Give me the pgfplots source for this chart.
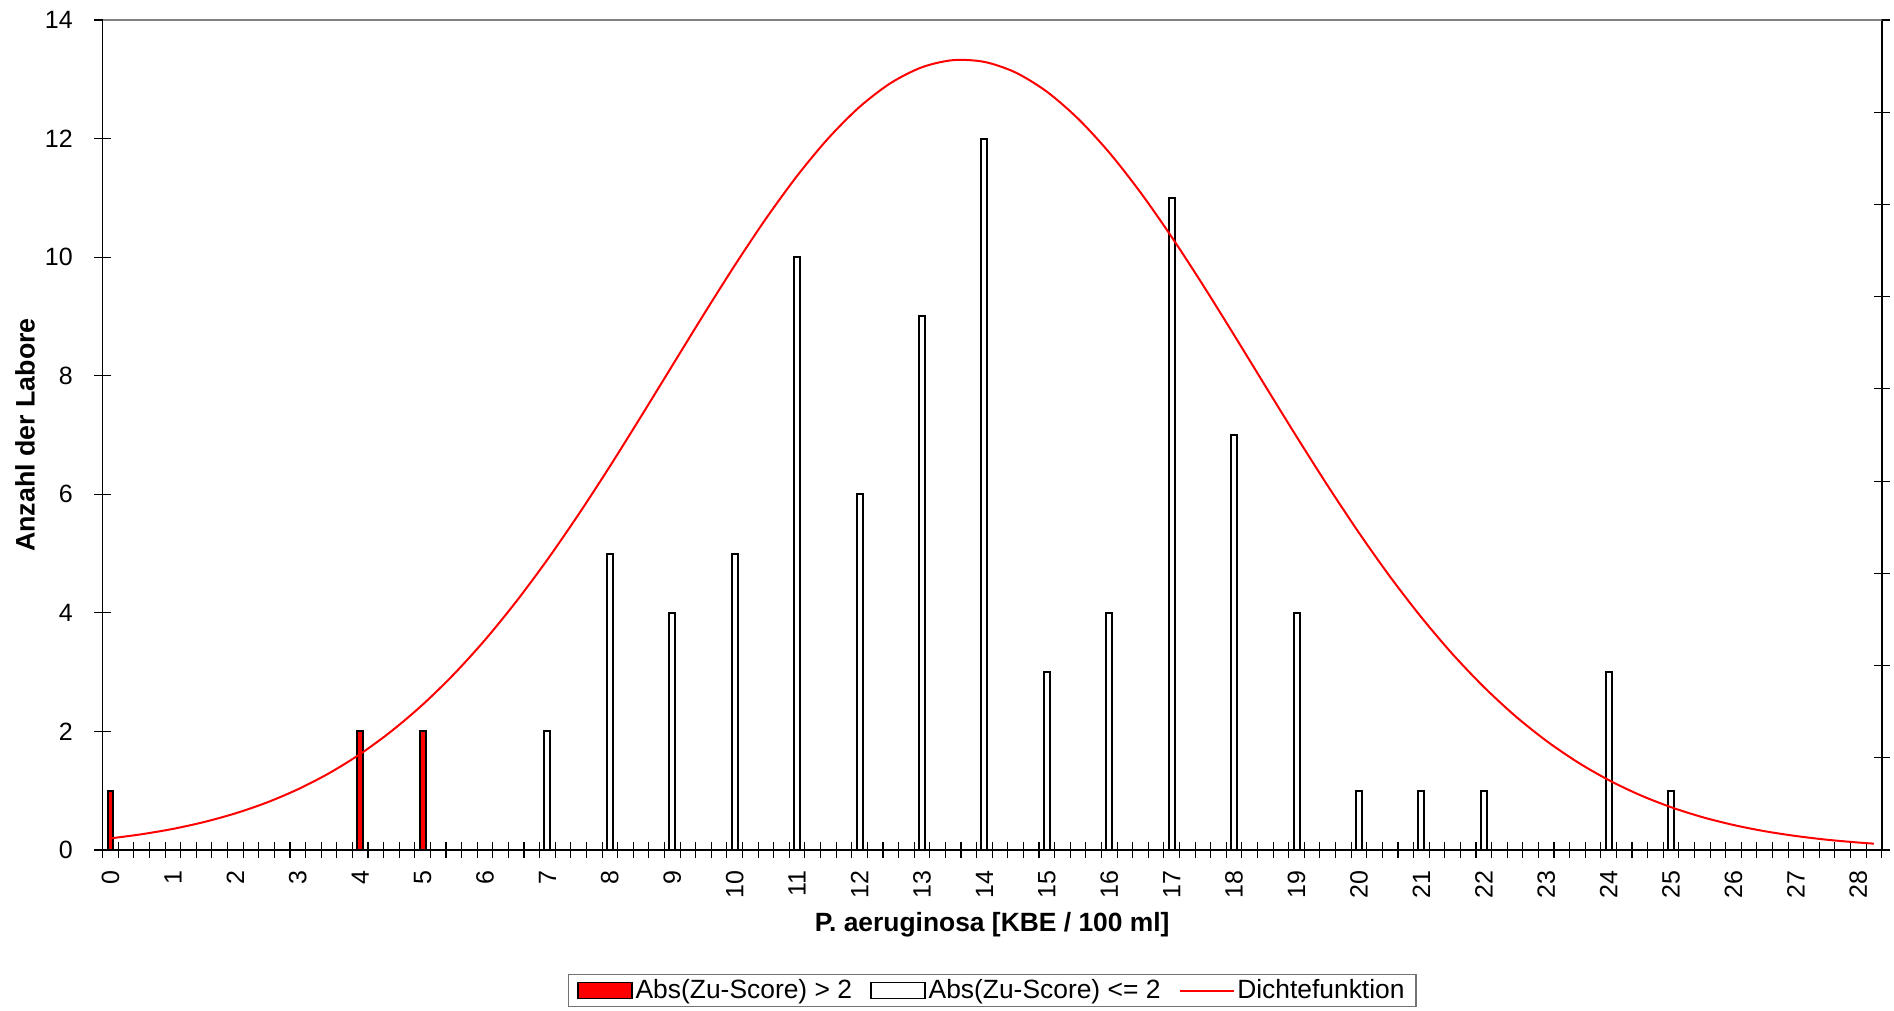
\documentclass[border=0pt]{standalone}
\usepackage{fontspec}
\setmainfont{Liberation Sans}
\usepackage{pgfplots}
\pgfplotsset{compat=1.18}
\pgfplotsset{
  boxleg/.style={legend image code/.code={\draw[##1, line width=0.9pt] (0pt,-4pt) rectangle (27pt,4pt);}},
  lineleg/.style={legend image code/.code={\draw[##1] (0pt,0pt) -- (27pt,0pt);}},
}
\begin{document}
\begin{tikzpicture}
\useasboundingbox (-51.35pt,-80.5pt) rectangle (895.65pt,425pt);
% secondary axis: right-hand ticks and the x tick marks
\begin{axis}[
  at={(0pt,0pt)}, anchor=south west,
  scale only axis, width=889.5pt, height=415pt,
  xmin=-0.125, xmax=28.375, ymin=0, ymax=9,
  axis x line*=bottom, axis y line*=right,
  xtick={-0.125,0.125,...,28.4}, xticklabels={},
  ytick={0,1,...,9}, yticklabels={},
  tick align=center, major tick length=8pt,
  tick style={black, line width=0.55pt},
  axis line style={black, line width=0.8pt},
]
\end{axis}
\begin{axis}[
  at={(0pt,0pt)}, anchor=south west,
  scale only axis, width=889.5pt, height=415pt,
  xmin=-0.125, xmax=28.375, ymin=0, ymax=14,
  axis x line*=bottom, axis y line*=left,
  xtick={0,1,...,28}, ytick={0,2,...,14},
  xtick style={draw=none},
  tick align=center, major tick length=8.5pt,
  tick style={black, line width=0.55pt},
  axis line style={black, line width=0.8pt},
  /pgf/number format/assume math mode=true,
  tick label style={font=\fontsize{12.5}{14}\selectfont},
  yticklabel style={anchor=east, inner sep=0pt, xshift=-10.5pt},
  xticklabel style={rotate=90, anchor=east, inner sep=0pt},
  xticklabel shift=6pt,
  xlabel={P. aeruginosa [KBE / 100 ml]},
  ylabel={Anzahl der Labore},
  every axis x label/.style={at={(axis description cs:0.5,-0.0904)}, anchor=center, font=\bfseries\fontsize{13.2}{15}\selectfont},
  every axis y label/.style={at={(axis description cs:-0.04368,0.5)}, rotate=90, anchor=center, font=\bfseries\fontsize{13.4}{15}\selectfont},
  legend columns=3,
  legend style={at={(axis description cs:0.5,-0.16928)}, anchor=center,
    draw=black!55, line width=0.6pt, font=\fontsize{13.2}{15}\selectfont,
    inner xsep=4.5pt, inner ysep=1.5pt,
    nodes={inner xsep=1.2pt, inner ysep=1pt},
    /tikz/every even column/.append style={column sep=8pt}},
]
\draw[black!50, line width=0.6pt] (rel axis cs:0,1) -- (rel axis cs:1,1);
\addplot[ybar, bar width=0.096, bar shift=0, fill=red, draw=black, line width=1pt, boxleg]
  coordinates {(0,1) (4,2) (5,2)};
\addlegendentry{Abs(Zu-Score) > 2}
\addplot[ybar, bar width=0.096, bar shift=0, fill=white, draw=black, line width=1pt, boxleg]
  coordinates {(7,2) (8,5) (9,4) (10,5) (11,10) (12,6) (13,9) (14,12) (15,3) (16,4)
    (17,11) (18,7) (19,4) (20,1) (21,1) (22,1) (24,3) (25,1)};
\addlegendentry{Abs(Zu-Score) <= 2}
\addplot[red, line width=1pt, no markers, smooth, lineleg]
  coordinates {
  (0,0.196) (0.5,0.266) (1,0.356) (1.5,0.472) (2,0.618) (2.5,0.799) (3,1.023)
  (3.5,1.294) (4,1.619) (4.5,2.004) (5,2.451) (5.5,2.964) (6,3.544) (6.5,4.191)
  (7,4.899) (7.5,5.663) (8,6.471) (8.5,7.314) (9,8.171) (9.5,9.027) (10,9.860)
  (10.5,10.649) (11,11.371) (11.5,12.006) (12,12.534) (12.5,12.937) (13,13.203)
  (13.5,13.323) (14,13.293) (14.5,13.114) (15,12.791) (15.5,12.336) (16,11.764)
  (16.5,11.092) (17,10.340) (17.5,9.531) (18,8.686) (18.5,7.827) (19,6.974)
  (19.5,6.144) (20,5.351) (20.5,4.608) (21,3.925) (21.5,3.304) (22,2.751)
  (22.5,2.264) (23,1.843) (23.5,1.483) (24,1.180) (24.5,0.928) (25,0.722)
  (25.5,0.555) (26,0.422) (26.5,0.317) (27,0.236) (27.5,0.173) (28,0.126)
  (28.25,0.107)};
\addlegendentry{Dichtefunktion}
\end{axis}
\end{tikzpicture}
\end{document}
